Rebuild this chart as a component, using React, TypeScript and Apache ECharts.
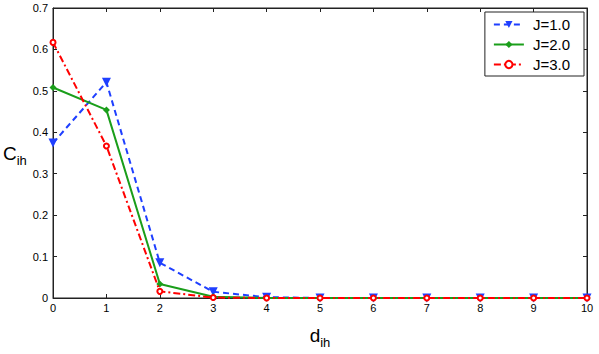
import React, { useEffect, useRef } from "react";
import * as echarts from "echarts";

const xValues = [0, 1, 2, 3, 4, 5, 6, 7, 8, 9, 10];
const seriesNames = ["J=1.0", "J=2.0", "J=3.0"];
const j1 = [0.374, 0.521, 0.085, 0.015, 0.002, 0, 0, 0, 0, 0, 0];
const j2 = [0.508, 0.454, 0.034, 0.003, 0, 0, 0, 0, 0, 0, 0];
const j3 = [0.617, 0.367, 0.016, 0.001, 0, 0, 0, 0, 0, 0, 0];

const font = "Liberation Sans, Arial, Helvetica, sans-serif";

export default function App() {
  const ref = useRef<HTMLDivElement>(null);
  useEffect(() => {
    document.body.style.margin = "0";
    document.body.style.overflow = "hidden";
    const chart = echarts.init(ref.current!, null, { renderer: "svg" });
    const pairs = (arr: number[]) => xValues.map((x, i) => [x, arr[i]]);
    const axisCommon = {
      type: "value" as const,
      axisLine: { show: true, onZero: false, lineStyle: { color: "#222", width: 1 } },
      axisTick: { show: true, inside: true, length: 4, lineStyle: { color: "#222" } },
      splitLine: { show: false },
    };
    chart.setOption({
      animation: false,
      backgroundColor: "#fff",
      textStyle: { fontFamily: font },
      grid: {
        left: 52,
        right: 12,
        top: 8,
        bottom: 41,
        containLabel: false,
        show: true,
        borderColor: "#222",
        borderWidth: 1,
        backgroundColor: "transparent",
      },
      legend: {
        right: 15,
        top: 12,
        orient: "vertical",
        backgroundColor: "#fff",
        borderColor: "#222",
        borderWidth: 1,
        borderRadius: 0,
        padding: [5, 14, 4, 8],
        itemGap: 5,
        itemWidth: 30,
        itemHeight: 9,
        textStyle: {
          fontFamily: font,
          fontSize: 15,
          lineHeight: 9,
          color: "#000",
          padding: [0, 0, 0, 4],
        },
        data: seriesNames,
      },
      xAxis: [
        {
          ...axisCommon,
          min: 0,
          max: 10,
          interval: 1,
          position: "bottom",
          axisLabel: { color: "#000", fontSize: 11, fontFamily: font, margin: 4 },
          name: "d{s|ih}",
          nameLocation: "middle",
          nameGap: 24,
          nameTextStyle: {
            fontSize: 19,
            color: "#000",
            fontFamily: font,
            rich: { s: { fontSize: 13, verticalAlign: "bottom", padding: [14, 0, 0, 0], fontFamily: font } },
          },
        },
        {
          ...axisCommon,
          min: 0,
          max: 10,
          interval: 1,
          position: "top",
          axisLabel: { show: false },
        },
      ],
      yAxis: [
        {
          ...axisCommon,
          min: 0,
          max: 0.7,
          interval: 0.1,
          position: "left",
          axisLabel: { color: "#000", fontSize: 11, fontFamily: font, margin: 5 },
          name: "C{s|ih}",
          nameLocation: "middle",
          nameRotate: 0,
          nameGap: 24,
          nameTextStyle: {
            fontSize: 19,
            color: "#000",
            fontFamily: font,
            rich: { s: { fontSize: 13, verticalAlign: "bottom", padding: [14, 0, 0, 0], fontFamily: font } },
          },
        },
        {
          ...axisCommon,
          min: 0,
          max: 0.7,
          interval: 0.1,
          position: "right",
          axisLabel: { show: false },
        },
      ],
      series: [
        {
          name: seriesNames[0],
          type: "line",
          data: pairs(j1),
          symbol: "triangle",
          symbolRotate: 180,
          symbolSize: 9,
          itemStyle: { color: "#1f3fff" },
          lineStyle: { color: "#1f3fff", width: 2, type: [6, 4] },
          z: 3,
        },
        {
          name: seriesNames[1],
          type: "line",
          data: pairs(j2),
          symbol: "diamond",
          symbolSize: 7,
          itemStyle: { color: "#1a9e1a" },
          lineStyle: { color: "#1a9e1a", width: 2, type: "solid" },
          z: 4,
        },
        {
          name: seriesNames[2],
          type: "line",
          data: pairs(j3),
          symbol: "emptyCircle",
          symbolSize: 5,
          itemStyle: { color: "#ff0000", borderWidth: 1.5 },
          lineStyle: { color: "#ff0000", width: 2, type: [7, 3, 2, 3] },
          z: 5,
        },
      ],
    });
    return () => chart.dispose();
  }, []);
  return (
    <div
      ref={ref}
      style={{ position: "fixed", left: 0, top: 0, width: 599, height: 354 }}
    />
  );
}
